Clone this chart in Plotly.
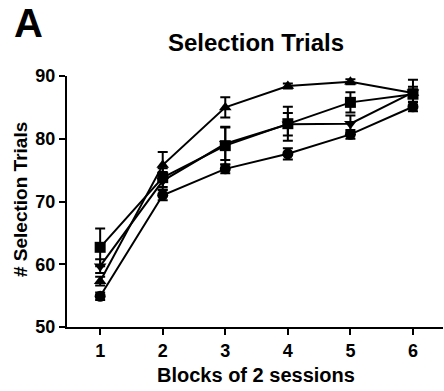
import plotly.graph_objects as go

blocks = [1, 2, 3, 4, 5, 6]
tick_vals_y = [50, 60, 70, 80, 90]

circle_vals = [54.9, 71.0, 75.2, 77.6, 80.7, 85.1]
circle_err = [0.6, 0.8, 0.7, 0.9, 0.7, 0.7]
square_vals = [62.7, 73.8, 78.9, 82.4, 85.8, 87.1]
square_err = [3.0, 1.5, 3.0, 2.7, 1.6, 1.2]
tri_up_vals = [57.3, 75.8, 85.0, 88.4, 89.1, 87.3]
tri_up_err = [0.7, 2.1, 1.6, 0.4, 0.4, 0.6]
tri_down_vals = [59.7, 73.3, 79.2, 82.3, 82.4, 87.4]
tri_down_err = [1.1, 1.4, 2.6, 1.8, 1.3, 2.0]

series = [
    ("circle", circle_vals, circle_err, 11),
    ("square", square_vals, square_err, 11),
    ("triangle-up", tri_up_vals, tri_up_err, 11),
    ("triangle-down", tri_down_vals, tri_down_err, 11),
]

fig = go.Figure()
for sym, vals, err, sz in series:
    fig.add_trace(go.Scatter(
        x=blocks, y=vals, mode="lines+markers",
        line=dict(color="black", width=2),
        marker=dict(symbol=sym, size=sz, color="black"),
        error_y=dict(type="data", array=err, visible=True, color="black",
                     thickness=2, width=5),
        showlegend=False,
    ))

W, H = 444, 391
L, R, T, B = 67, 1, 76, 64
pw, ph = W - L - R, H - T - B

def px(x):
    return (x - L) / pw

def py(y):
    return (H - B - y) / ph

font = "Liberation Sans, Arial, sans-serif"
fig.update_layout(
    width=W, height=H,
    margin=dict(l=L, r=R, t=T, b=B),
    plot_bgcolor="white", paper_bgcolor="white",
    font=dict(family=font, color="black"),
    xaxis=dict(range=[0.47, 6.48], tickvals=blocks, showgrid=False, zeroline=False,
               showline=True, linecolor="black", linewidth=2,
               ticks="outside", ticklen=6, tickwidth=2, tickcolor="black",
               tickfont=dict(size=18, weight="bold", family=font)),
    yaxis=dict(range=[50, 90], tickvals=tick_vals_y, showgrid=False, zeroline=False,
               showline=True, linecolor="black", linewidth=2,
               ticks="outside", ticklen=6, tickwidth=2, tickcolor="black",
               tickfont=dict(size=18, weight="bold", family=font)),
    annotations=[
        dict(text="Selection Trials", x=px(256), y=py(43), xref="paper", yref="paper",
             showarrow=False, xanchor="center", yanchor="middle",
             font=dict(size=24, weight="bold", family=font)),
        dict(text="A", x=px(12), y=py(23), xref="paper", yref="paper",
             showarrow=False, xanchor="left", yanchor="middle",
             font=dict(size=40, weight="bold", family=font)),
        dict(text="Blocks of 2 sessions", x=px(256), y=py(375), xref="paper", yref="paper",
             showarrow=False, xanchor="center", yanchor="middle",
             font=dict(size=20, weight="bold", family=font)),
        dict(text="# Selection Trials", x=px(20), y=py(200), xref="paper", yref="paper",
             showarrow=False, xanchor="center", yanchor="middle", textangle=-90,
             font=dict(size=19, weight="bold", family=font)),
    ],
)

fig.write_html("out.html")
